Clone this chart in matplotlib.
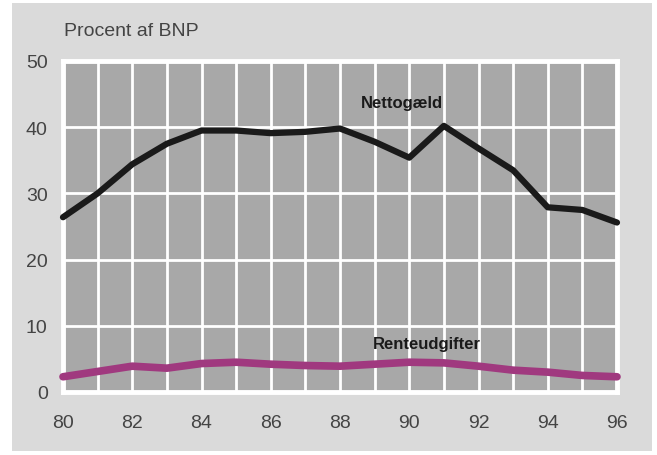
import numpy as np
import matplotlib.pyplot as plt
from matplotlib.patches import Rectangle

# Data (years 1980-1996, pct. of GDP)
years = np.arange(80, 97)
nettogaeld = [26.4, 30.0, 34.4, 37.5, 39.5, 39.5, 39.1, 39.3, 39.8,
              37.8, 35.4, 40.2, 36.8, 33.5, 27.9, 27.5, 25.6]
renteudgifter = [2.3, 3.1, 3.9, 3.6, 4.3, 4.5, 4.2, 4.0, 3.9,
                 4.2, 4.5, 4.4, 3.9, 3.3, 3.0, 2.5, 2.3]

plt.rcParams['font.family'] = ['Liberation Sans', 'DejaVu Sans']

fig = plt.figure(figsize=(6.57, 4.56), dpi=100)
fig.patch.set_facecolor('white')
fig.patches.append(Rectangle((12/657, 4/456), 640/657, 448/456,
                             transform=fig.transFigure, facecolor='#dadada',
                             edgecolor='none', zorder=-10))

ax = fig.add_axes([63/657, 63/456, 554/657, 331/456])
ax.set_zorder(1)
ax.set_facecolor('#a8a8a8')

ax.plot(years, nettogaeld, color='#1a1a1a', lw=4.5, solid_capstyle='round',
        solid_joinstyle='round', zorder=3, clip_on=False)
ax.plot(years, renteudgifter, color='#a0397f', lw=5.5, solid_capstyle='round',
        solid_joinstyle='round', zorder=3, clip_on=False)

ax.set_xlim(80, 96)
ax.set_ylim(0, 50)
ax.set_xticks(np.arange(80, 97, 2))
ax.set_xticks(years, minor=True)
ax.set_yticks(np.arange(0, 51, 10))
ax.grid(True, which='both', axis='x', color='white', lw=2)
ax.grid(True, which='major', axis='y', color='white', lw=2)
ax.set_axisbelow(True)
for s in ax.spines.values():
    s.set_color('white')
    s.set_linewidth(3.5)
ax.tick_params(which='both', length=0, labelsize=14, colors='#444444')
ax.tick_params(axis='x', pad=16)
ax.tick_params(axis='y', pad=11)

ax.text(89.8, 43.8, 'Nettogæld', fontsize=12, fontweight='bold',
        color='#1a1a1a', ha='center', va='center')
ax.text(90.5, 7.4, 'Renteudgifter', fontsize=12, fontweight='bold',
        color='#1a1a1a', ha='center', va='center')

fig.text(64/657, 1 - 31/456, 'Procent af BNP', fontsize=14, color='#444444',
         ha='left', va='center')

fig.savefig('out.png', dpi=100, facecolor=fig.get_facecolor())
